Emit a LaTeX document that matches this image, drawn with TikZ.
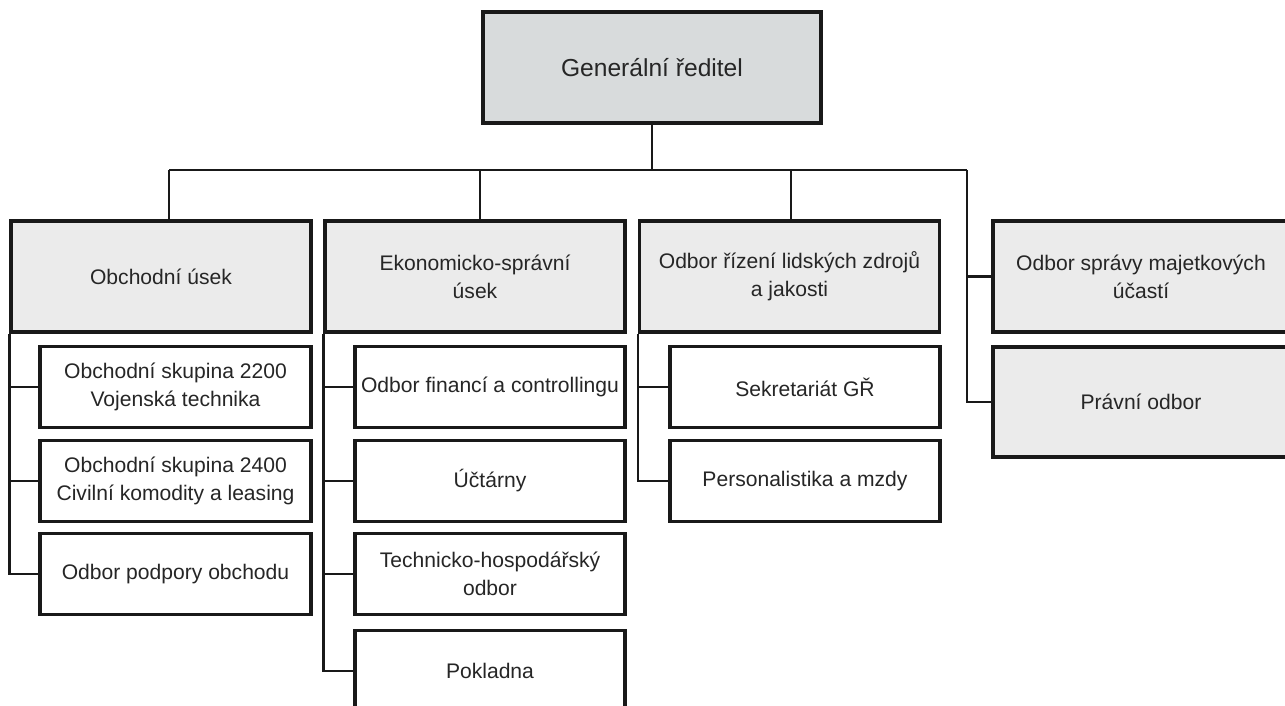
\documentclass[tikz,border=0pt]{standalone}
\usepackage{fontspec}
\setmainfont{Liberation Sans}
\definecolor{grtop}{HTML}{D8DBDC}
\definecolor{grhead}{HTML}{EBEBEB}
\begin{document}
\begin{tikzpicture}[x=.02cm,y=-.02cm,
  box/.style={draw=black!90,line width=1.8pt,align=center,inner sep=2pt,text=black!85,
    font=\fontsize{12}{16}\selectfont},
  topbox/.style={box,fill=grtop,minimum width=6.76cm,minimum height=2.22cm,
    font=\fontsize{14}{17}\selectfont},
  headbox/.style={box,fill=grhead,minimum width=6cm,minimum height=2.22cm},
  subbox/.style={box,fill=white,minimum width=5.4cm,minimum height=1.62cm},
  link/.style={line width=1.5pt,draw=black!90}]
\useasboundingbox (0,0) rectangle (1285,706);
% top
\node[topbox] (gr) at (652,67.5) {Generální ředitel};
% first level
\node[headbox] (obch) at (161,276.5) {Obchodní úsek};
\node[headbox] (ekon) at (475,276.5) {Ekonomicko-správní\\úsek};
\node[headbox] (lidz) at (789.5,276.5) {Odbor řízení lidských zdrojů\\a jakosti};
\node[headbox,minimum width=5.92cm] (sprava) at (1141,276.5) {Odbor správy majetkových\\účastí};
\node[headbox,minimum width=5.92cm,minimum height=2.2cm] (pravni) at (1141,402) {Právní odbor};
% second level
\node[subbox,minimum width=5.42cm] (ob1) at (175.5,387) {Obchodní skupina 2200\\Vojenská technika};
\node[subbox,minimum width=5.42cm] (ob2) at (175.5,481) {Obchodní skupina 2400\\Civilní komodity a leasing};
\node[subbox,minimum width=5.42cm] (ob3) at (175.5,574) {Odbor podpory obchodu};
\node[subbox] (ek1) at (490,387) {Odbor financí a controllingu};
\node[subbox] (ek2) at (490,481) {Účtárny};
\node[subbox] (ek3) at (490,574) {Technicko-hospodářský\\odbor};
\node[subbox] (ek4) at (490,671) {Pokladna};
\node[subbox] (lz1) at (805,387) {Sekretariát GŘ};
\node[subbox] (lz2) at (805,481) {Personalistika a mzdy};
% bus
\coordinate (busO) at (169,170);
\coordinate (busE) at (480,170);
\coordinate (busZ) at (791,170);
\coordinate (busR) at (967,170);
\draw[link] (busO) -- (busR);
\draw[link] (gr) -- (gr |- busO);
\draw[link] (busO) -- (busO |- obch.north)
            (busE) -- (busE |- ekon.north)
            (busZ) -- (busZ |- lidz.north);
\draw[link] (busR) |- (pravni.west)
            (busR |- sprava.west) -- (sprava.west);
% trunks
\draw[link] (obch.south west) |- (ob3.west)
            (obch.south west |- ob1.west) -- (ob1.west)
            (obch.south west |- ob2.west) -- (ob2.west);
\draw[link] (ekon.south west) |- (ek4.west)
            (ekon.south west |- ek1.west) -- (ek1.west)
            (ekon.south west |- ek2.west) -- (ek2.west)
            (ekon.south west |- ek3.west) -- (ek3.west);
\draw[link] (lidz.south west) |- (lz2.west)
            (lidz.south west |- lz1.west) -- (lz1.west);
\end{tikzpicture}
\end{document}
